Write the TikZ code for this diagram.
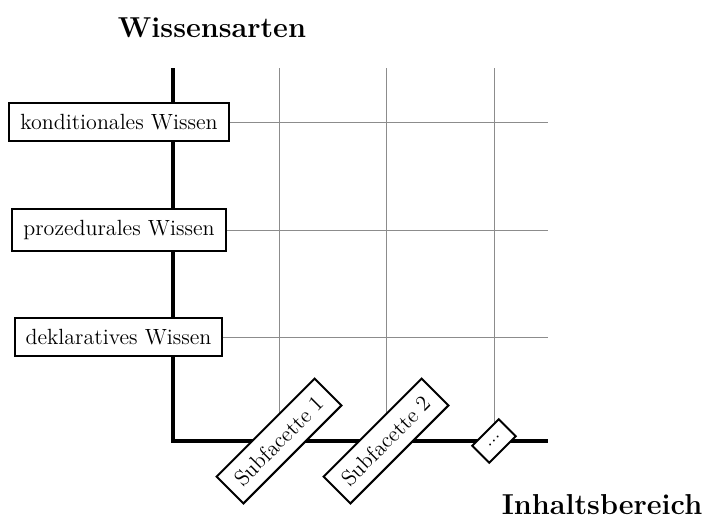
\documentclass[tikz,border=0pt]{standalone}
\usepackage{fontspec}
\begin{document}
\begin{tikzpicture}[x=0.5pt,y=-0.5pt,
  gridline/.style={draw=black!45, line width=0.5pt},
  axisline/.style={draw=black, line width=2.1pt},
  lab/.style={draw, fill=white, line width=1pt, inner sep=5.5pt, font=\fontsize{11}{13}\selectfont},
  title/.style={font=\fontsize{14.4}{17}\selectfont\bfseries}]
\useasboundingbox (0,0) rectangle (713,521);
% coordinates
\coordinate (O) at (173,441);
\coordinate (Ytop) at (173,68);
\coordinate (Xend) at (548,441);
\coordinate (v1b) at (279,441); \coordinate (v1t) at (279,68);
\coordinate (v2b) at (386,441); \coordinate (v2t) at (386,68);
\coordinate (v3b) at (494,441); \coordinate (v3t) at (494,68);
\coordinate (h1l) at (173,122); \coordinate (h1r) at (548,122);
\coordinate (h2l) at (173,230); \coordinate (h2r) at (548,230);
\coordinate (h3l) at (173,337); \coordinate (h3r) at (548,337);
% grid
\draw[gridline] (v1b) -- (v1t);
\draw[gridline] (v2b) -- (v2t);
\draw[gridline] (v3b) -- (v3t);
\draw[gridline] (h1l) -- (h1r);
\draw[gridline] (h2l) -- (h2r);
\draw[gridline] (h3l) -- (h3r);
% axes
\draw[axisline] (Ytop) -- (O) -- (Xend);
% labels
\node[lab] (kond) at (119,122) {konditionales Wissen};
\node[lab] (proz) at (119,230) {prozedurales Wissen};
\node[lab] (dekl) at (118.5,337) {deklaratives Wissen};
\node[lab, rotate=45] (sf1) at (v1b) {Subfacette 1};
\node[lab, rotate=45] (sf2) at (v2b) {Subfacette 2};
\node[lab, rotate=45, font=\fontsize{9}{10}\selectfont] (sf3) at (v3b) {...};
% titles
\node[title] (wa) at (212,28) {Wissensarten};
\node[title] (ib) at (602,505) {Inhaltsbereich};
\end{tikzpicture}
\end{document}
